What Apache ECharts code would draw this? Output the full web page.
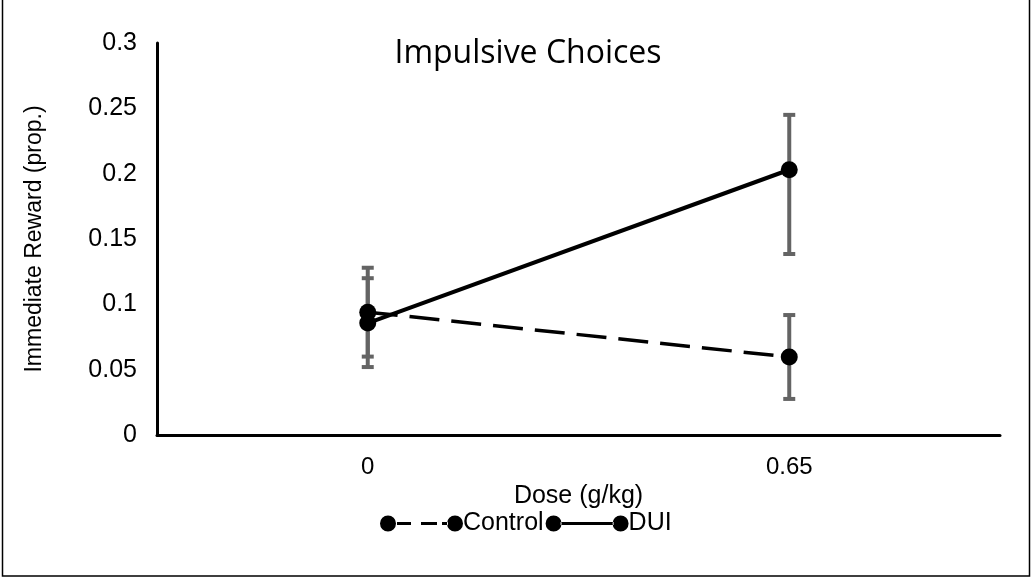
<!DOCTYPE html>
<html>
<head>
<meta charset="utf-8">
<script src="https://cdn.jsdelivr.net/npm/echarts@6/dist/echarts.min.js"></script>
<style>
html,body{margin:0;padding:0;background:#fff;}
#chart{width:1032px;height:578px;}
</style>
</head>
<body>
<div id="chart"></div>
<script>
var categories = ['0', '0.65'];
var controlValues = [0.094, 0.0597];
var controlLow = [0.060, 0.0276];
var controlHigh = [0.128, 0.0918];
var duiValues = [0.0857, 0.203];
var duiLow = [0.052, 0.1385];
var duiHigh = [0.120, 0.245];
var yTicks = [0, 0.05, 0.1, 0.15, 0.2, 0.25, 0.3];

var chart = echarts.init(document.getElementById('chart'));

function errorSeries(name, low, high) {
  return {
    type: 'custom',
    name: name + ' err',
    z: 1,
    silent: true,
    data: categories.map(function (c, i) { return [i, low[i], high[i]]; }),
    renderItem: function (params, api) {
      var x = api.value(0);
      var lo = api.coord([x, api.value(1)]);
      var hi = api.coord([x, api.value(2)]);
      var cw = 6;
      var st = { stroke: '#646464', lineWidth: 4 };
      return {
        type: 'group',
        children: [
          { type: 'line', shape: { x1: lo[0], y1: lo[1], x2: hi[0], y2: hi[1] }, style: st },
          { type: 'line', shape: { x1: lo[0] - cw, y1: lo[1], x2: lo[0] + cw, y2: lo[1] }, style: st },
          { type: 'line', shape: { x1: hi[0] - cw, y1: hi[1], x2: hi[0] + cw, y2: hi[1] }, style: st }
        ]
      };
    }
  };
}

var circ = function (cx) { return 'M' + (cx - 8) + ',8 a8,8 0 1,0 16,0 a8,8 0 1,0 -16,0 Z '; };
var dashedIcon = 'path://' + circ(8) + 'M17,6.5 L31,6.5 L31,9.5 L17,9.5 Z M41,6.5 L57,6.5 L57,9.5 L41,9.5 Z M62,6.5 L68,6.5 L68,9.5 L62,9.5 Z ' + circ(75);
var solidIcon = 'path://' + circ(8) + 'M15,6.5 L68,6.5 L68,9.5 L15,9.5 Z ' + circ(75);

var option = {
  animation: false,
  backgroundColor: '#fff',
  title: {
    text: 'Impulsive Choices',
    left: 523,
    textAlign: 'center',
    top: 33,
    textStyle: { fontFamily: 'Open Sans', fontWeight: 'normal', fontSize: 32, color: '#000' }
  },
  legend: {
    left: 375,
    top: 506,
    itemWidth: 83,
    itemHeight: 16,
    itemGap: 2,
    textStyle: { fontFamily: 'Liberation Sans', fontSize: 25, color: '#000', padding: [0, 0, 0, -5] },
    data: [
      { name: 'Control', icon: dashedIcon, itemStyle: { color: '#000' } },
      { name: 'DUI', icon: solidIcon, itemStyle: { color: '#000' } }
    ]
  },
  grid: { left: 157, right: 32, top: 43, bottom: 143 },
  xAxis: {
    type: 'category',
    data: categories,
    boundaryGap: true,
    name: 'Dose (g/kg)',
    nameLocation: 'middle',
    nameGap: 46,
    nameTextStyle: { fontFamily: 'Liberation Sans', fontSize: 25, color: '#000' },
    axisLine: { lineStyle: { color: '#000', width: 3 } },
    axisTick: { show: false },
    axisLabel: { fontFamily: 'Liberation Sans', fontSize: 24, color: '#000', margin: 20 },
    splitLine: { show: false }
  },
  yAxis: {
    type: 'value',
    min: yTicks[0],
    max: yTicks[yTicks.length - 1],
    interval: 0.05,
    name: 'Immediate Reward (prop.)',
    nameLocation: 'middle',
    nameGap: 111,
    nameTextStyle: { fontFamily: 'Liberation Sans', fontSize: 23, color: '#000' },
    axisLine: { show: true, lineStyle: { color: '#000', width: 3 } },
    axisTick: { show: false },
    axisLabel: { fontFamily: 'Liberation Sans', fontSize: 25, color: '#000', margin: 20 },
    splitLine: { show: false }
  },
  graphic: [{
    type: 'rect',
    shape: { x: 2.5, y: -2, width: 1027, height: 578 },
    style: { fill: 'none', stroke: '#000', lineWidth: 1.5 },
    silent: true
  }],
  series: [
    errorSeries('Control', controlLow, controlHigh),
    errorSeries('DUI', duiLow, duiHigh),
    {
      name: 'Control',
      type: 'line',
      z: 3,
      data: controlValues,
      symbol: 'circle',
      symbolSize: 17,
      itemStyle: { color: '#000' },
      lineStyle: { color: '#000', width: 3.5, type: [30, 12] }
    },
    {
      name: 'DUI',
      type: 'line',
      z: 4,
      data: duiValues,
      symbol: 'circle',
      symbolSize: 17,
      itemStyle: { color: '#000' },
      lineStyle: { color: '#000', width: 4 }
    }
  ]
};
chart.setOption(option);
</script>
</body>
</html>
